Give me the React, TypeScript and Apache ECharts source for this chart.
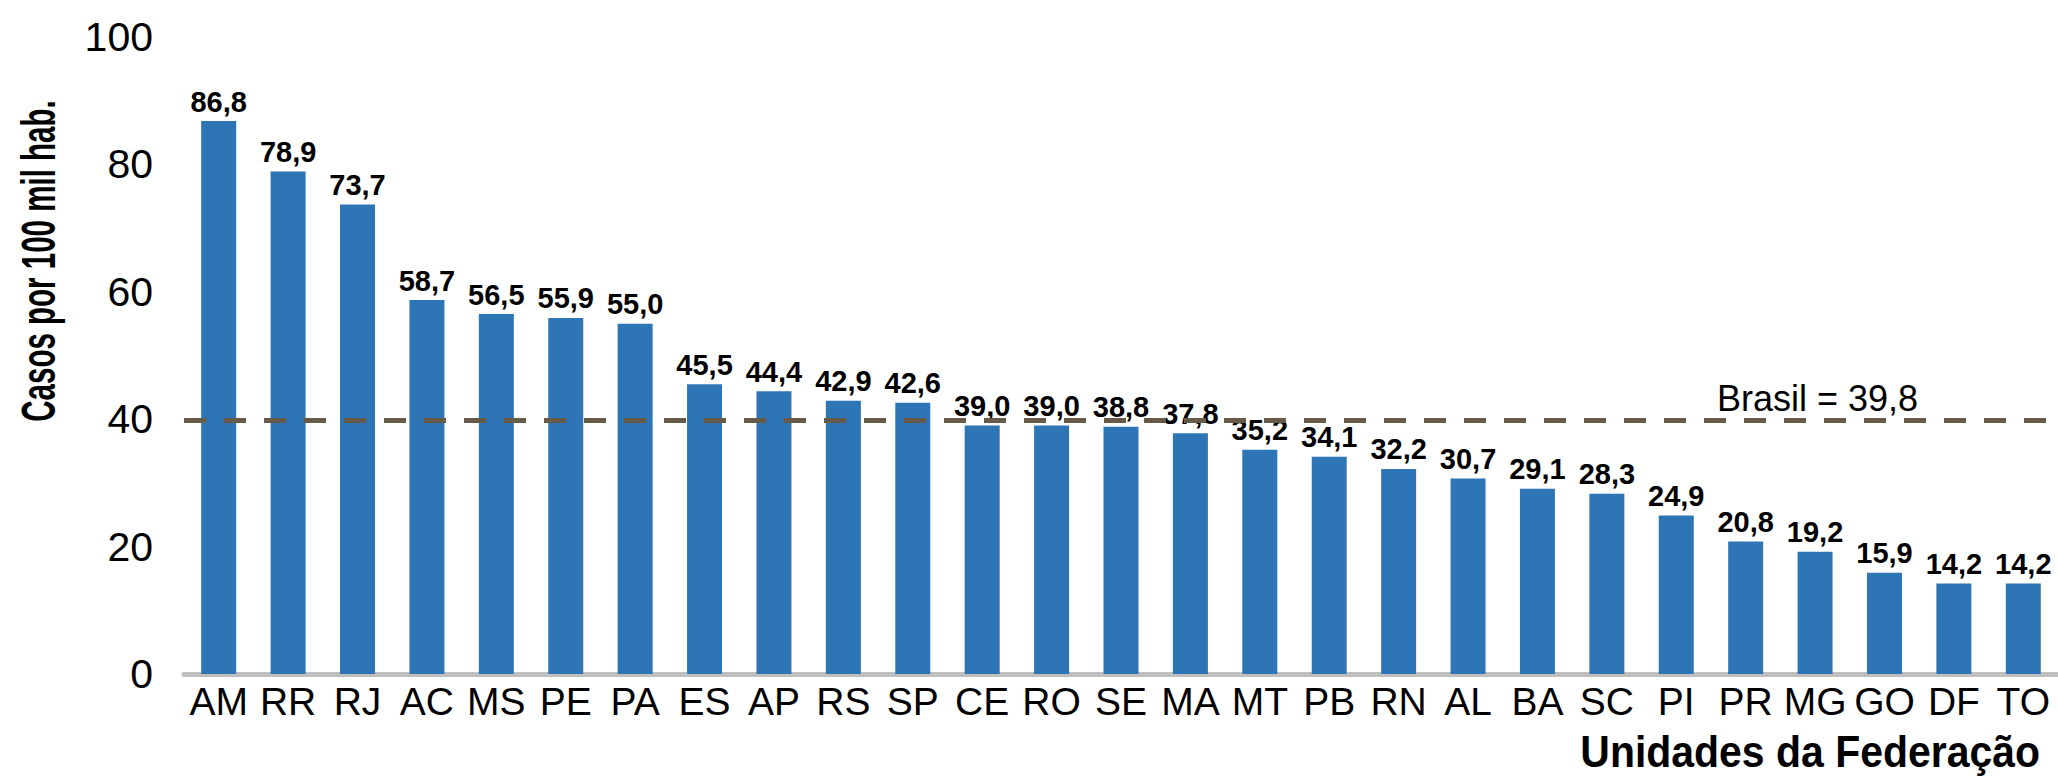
import React, { useEffect, useRef } from "react";
import * as echarts from "echarts";

const categories = ["AM","RR","RJ","AC","MS","PE","PA","ES","AP","RS","SP","CE","RO","SE","MA","MT","PB","RN","AL","BA","SC","PI","PR","MG","GO","DF","TO"];
const values = [86.8,78.9,73.7,58.7,56.5,55.9,55.0,45.5,44.4,42.9,42.6,39.0,39.0,38.8,37.8,35.2,34.1,32.2,30.7,29.1,28.3,24.9,20.8,19.2,15.9,14.2,14.2];
const brasilValue = 39.8;
const yTicks = { min: 0, max: 100, interval: 20 };
const yTitle = "Casos por 100 mil hab.";
const xTitle = "Unidades da Federação";
const refLabel = "Brasil = 39,8";

const SANS = '"Liberation Sans", Arial, sans-serif';

export default function App() {
  const ref = useRef<HTMLDivElement>(null);
  useEffect(() => {
    if (!ref.current) return;
    const chart = echarts.init(ref.current, null, { renderer: "svg" });
    chart.setOption({
      animation: false,
      backgroundColor: "#ffffff",
      grid: { left: 184, top: 37, width: 1884, bottom: 107, containLabel: false },
      xAxis: {
        type: "category",
        data: categories,
        axisTick: { show: false },
        axisLine: { show: true, lineStyle: { color: "#bfbfbf", width: 5 } },
        axisLabel: { color: "#000", fontFamily: SANS, fontSize: 39, margin: 8, interval: 0 },
      },
      yAxis: {
        type: "value",
        min: yTicks.min,
        max: yTicks.max,
        interval: yTicks.interval,
        splitLine: { show: false },
        axisLine: { show: false },
        axisTick: { show: false },
        axisLabel: { color: "#000", fontFamily: SANS, fontSize: 41, margin: 31 },
      },
      series: [
        {
          type: "bar",
          data: values,
          barWidth: 35,
          itemStyle: { color: "#2E75B6" },
          label: {
            show: true,
            position: "top",
            distance: 5,
            color: "#000",
            fontFamily: SANS,
            fontWeight: "bold",
            fontSize: 29,
            formatter: (p: any) => Number(p.value).toFixed(1).replace(".", ","),
          },
          markLine: {
            silent: true,
            symbol: "none",
            lineStyle: { color: "#665a48", type: [22, 18], width: 5 },
            label: {
              show: true,
              position: "insideEndTop",
              formatter: refLabel,
              color: "#000",
              fontFamily: SANS,
              fontSize: 36,
              distance: [140, 4],
            },
            data: [{ yAxis: brasilValue }],
          },
        },
      ],
      graphic: [
        {
          type: "text",
          x: 38,
          y: 261,
          rotation: Math.PI / 2,
          scaleX: 0.615,
          scaleY: 1,
          style: {
            text: yTitle,
            fill: "#000",
            font: `bold 48px ${SANS}`,
            align: "center",
            verticalAlign: "middle",
          },
        },
        {
          type: "text",
          x: 2040,
          y: 751,
          scaleX: 0.91,
          scaleY: 1,
          style: {
            text: xTitle,
            fill: "#000",
            font: `bold 45px ${SANS}`,
            align: "right",
            verticalAlign: "middle",
          },
        },
      ],
    });
    return () => chart.dispose();
  }, []);
  return <div ref={ref} style={{ position: "fixed", left: 0, top: 0, width: 2058, height: 781 }} />;
}
